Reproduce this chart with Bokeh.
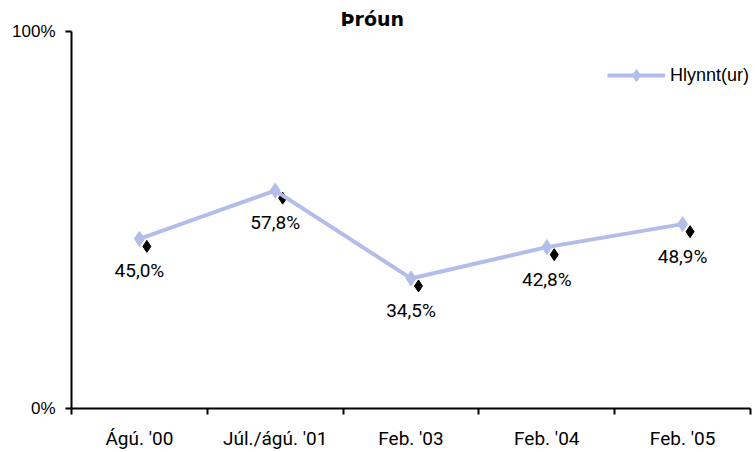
import numpy as np
from bokeh.plotting import figure
from bokeh.models import (FixedTicker, Range1d, ColumnDataSource, Legend, LegendItem)
from bokeh.core.properties import value
from bokeh.embed import file_html
from bokeh.resources import INLINE

categories = ["Ágú. '00", "Júl./ágú. '01", "Feb. '03", "Feb. '04", "Feb. '05"]
values = [0.450, 0.578, 0.345, 0.428, 0.489]
labels = ["45,0%", "57,8%", "34,5%", "42,8%", "48,9%"]
series_name = "Hlynnt(ur)"
title_text = "Þróun"

NARROW = "Roboto, 'Liberation Sans', sans-serif"
SANS = "'Liberation Sans', Arial, sans-serif"
BLUE = "#b3bdea"

x = np.arange(len(categories)) + 0.5
src = ColumnDataSource(dict(x=x, y=values, lab=labels))

p = figure(width=755, height=452, output_backend="svg", toolbar_location=None,
           x_range=Range1d(0, len(categories)), y_range=Range1d(0, 1),
           min_border_left=71, min_border_right=5, min_border_top=31, min_border_bottom=44,
           title=title_text)
p.outline_line_color = None
p.xgrid.visible = False
p.ygrid.visible = False
p.background_fill_color = "white"

p.title.align = "left"
p.title.offset = 269
p.title.standoff = 3
p.title.text_font = "DejaVu Sans"
p.title.text_font_style = "bold"
p.title.text_font_size = "19px"
p.title.text_color = "black"

# x axis: labels centred in each category, ticks at the boundaries
p.xaxis.ticker = FixedTicker(ticks=list(x), minor_ticks=list(range(len(categories) + 1)))
p.xaxis.major_label_overrides = {float(xx): c for xx, c in zip(x, categories)}
p.xaxis.major_tick_out = 0
p.xaxis.major_tick_in = 0
p.xaxis.minor_tick_out = 6
p.xaxis.minor_tick_in = 0
p.xaxis.minor_tick_line_width = 2
p.xaxis.minor_tick_line_color = "black"
p.xaxis.axis_line_width = 2
p.xaxis.axis_line_color = "black"
p.xaxis.major_label_text_font = NARROW
p.xaxis.major_label_text_font_size = "19px"
p.xaxis.major_label_text_color = "black"
p.xaxis.major_label_standoff = 12

p.yaxis.ticker = FixedTicker(ticks=[0, 1], minor_ticks=[])
p.yaxis.major_label_overrides = {0: "0%", 1: "100%"}
p.yaxis.major_tick_out = 6
p.yaxis.major_tick_in = 0
p.yaxis.major_tick_line_width = 2
p.yaxis.axis_line_width = 2
p.yaxis.axis_line_color = "black"
p.yaxis.major_label_text_font = SANS
p.yaxis.major_label_text_font_size = "17px"
p.yaxis.major_label_text_color = "black"
p.yaxis.major_label_standoff = 10

# shadow diamonds
dx = 0.055
dy = 0.02
p.scatter(x=x + dx, y=np.array(values) - dy, marker="diamond", size=12,
          fill_color="black", line_color="black")
ln = p.line("x", "y", source=src, line_color=BLUE, line_width=4)
sc = p.scatter("x", "y", source=src, marker="diamond", size=15,
               fill_color=BLUE, line_color=BLUE)

p.text("x", "y", text="lab", source=src, text_align="center", text_baseline="middle",
       y_offset=32, text_font=value(NARROW), text_font_size="19px", text_color="black")

legend = Legend(items=[LegendItem(label=series_name, renderers=[ln, sc])],
                location=(536, 318), glyph_width=58, glyph_height=30,
                label_standoff=5, padding=0, margin=0, spacing=0,
                border_line_color=None, background_fill_alpha=0,
                label_text_font=SANS, label_text_font_size="18px", label_text_color="black")
p.add_layout(legend)

open("out.html", "w").write(file_html(p, INLINE))
